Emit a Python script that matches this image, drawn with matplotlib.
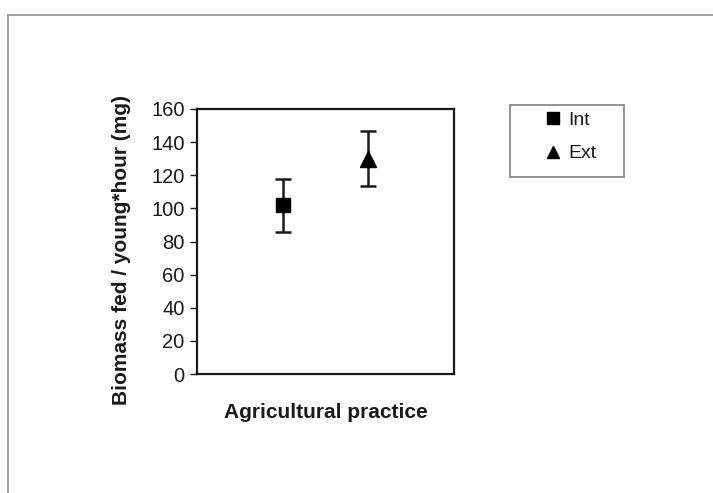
import matplotlib
matplotlib.use('Agg')
import matplotlib.pyplot as plt
from matplotlib.lines import Line2D
from matplotlib.patches import Rectangle

plt.rcParams['font.family'] = ['Liberation Sans', 'DejaVu Sans']

# biomass fed per young per hour (mg), mean and error
practices = ['Int', 'Ext']
means     = [102, 130]
errors    = [16, 16.5]
markers   = ['s', '^']
yticks    = [0, 20, 40, 60, 80, 100, 120, 140, 160]

W, H = 713, 493
fig = plt.figure(figsize=(W / 100, H / 100), dpi=100)

# grey outer chart frame (top and left edges)
fig.add_artist(Line2D([8/W, 1.0], [1 - 15/H, 1 - 15/H], color='#9a9a9a', lw=1.3))
fig.add_artist(Line2D([8/W, 8/W], [0.0, 1 - 15/H], color='#9a9a9a', lw=1.3))

ax = fig.add_axes([197/W, 1 - 374/H, 257/W, 265/H])

for i, (name, m, e, mk) in enumerate(zip(practices, means, errors, markers)):
    ax.errorbar(i + 1, m, yerr=e, fmt=mk, color='black', ecolor='#1a1a1a',
                markersize=11 if mk == '^' else 9.5, capsize=5.5, elinewidth=1.8,
                capthick=1.8, label=name, zorder=3)

ax.set_xlim(0, 3)
ax.set_ylim(0, 160)
ax.set_yticks(yticks)
ax.set_xticks([])
ax.tick_params(axis='y', direction='out', length=5, width=1, labelsize=14.5,
               pad=4, colors='#1a1a1a')
for s in ax.spines.values():
    s.set_linewidth(1.6)
    s.set_color('#1a1a1a')

ax.set_ylabel('Biomass fed / young*hour (mg)', fontsize=15, fontweight='bold',
              color='#1a1a1a')
ax.yaxis.set_label_coords(-0.255, 0.468)
ax.set_xlabel('Agricultural practice', fontsize=15, fontweight='bold',
              labelpad=21, color='#1a1a1a')

# legend box
fig.add_artist(Rectangle((510/W, 1 - 177/H), 114/W, 72/H, transform=fig.transFigure,
                         facecolor='white', edgecolor='#8a8a8a', lw=1.3))
leg_handles = [Line2D([], [], marker=mk, color='black', linestyle='none',
                      markersize=9 if mk == '^' else 8)
               for mk in markers]
leg = fig.legend(leg_handles, practices, loc='center left',
                 bbox_to_anchor=(544/W, 1 - 137/H), frameon=False,
                 fontsize=14, handlelength=0.9, handletextpad=0.35,
                 borderpad=0, labelspacing=0.8, borderaxespad=0)
for t in leg.get_texts():
    t.set_color('#1a1a1a')

fig.savefig('out.png', dpi=100)
